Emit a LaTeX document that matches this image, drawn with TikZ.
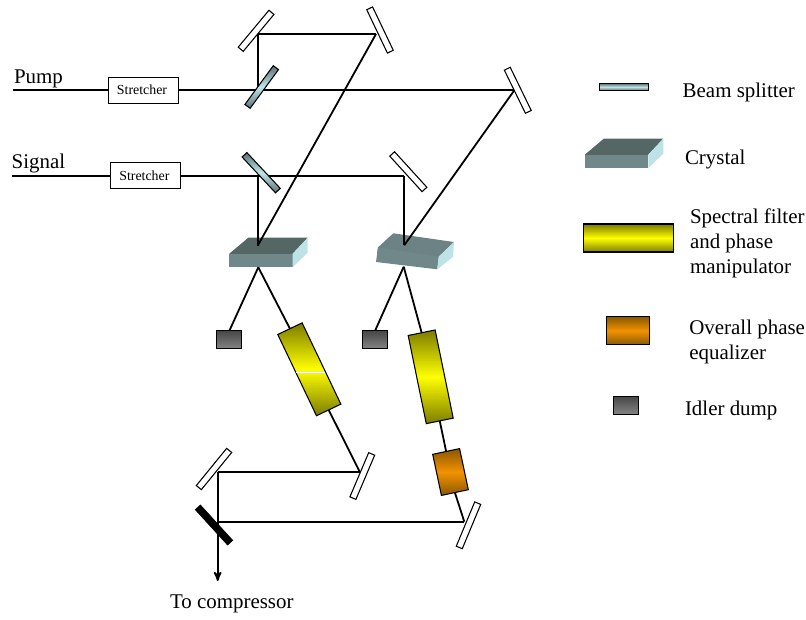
\documentclass[tikz,border=0pt]{standalone}
\usepackage{fontspec}
\setmainfont{Liberation Serif}
\usetikzlibrary{positioning, arrows, backgrounds}
\definecolor{filterdark}{HTML}{7C7C00}
\definecolor{filtermid}{HTML}{FFFF00}
\definecolor{phasedark}{HTML}{8A5800}
\definecolor{phasemid}{HTML}{F29200}
\definecolor{splitdark}{HTML}{5C7073}
\definecolor{splitmid}{HTML}{BFE6E9}
\definecolor{crystaltop}{HTML}{556765}
\definecolor{crystalmid}{HTML}{6C8284}
\definecolor{crystalfront}{HTML}{70888A}
\definecolor{crystalside}{HTML}{BDE3E6}
\newcommand{\px}{0.75pt}
\newcommand{\optic}[6]{
  \node[opticbody, rotate=#3, minimum width=#4*\px, minimum height=#5*\px] (#1) at (#2) {};
  \shadedraw[#6, opticline] (#1.north west) -- (#1.north east) -- (#1.south east) -- (#1.south west) -- cycle;
}
\tikzset{
  opticbody/.style={shape=rectangle, inner sep=0pt, outer sep=0pt},
  opticline/.style={draw=black, line width=.8pt},
  mirror/.style={opticbody, draw, fill=white, line width=.8pt, minimum width=48*\px, minimum height=6.5*\px},
  blocker/.style={opticbody, draw, fill=black, minimum width=48*\px, minimum height=7*\px},
  stretcher/.style={opticbody, draw, line width=.9pt, minimum width=70*\px, minimum height=26*\px, font=\fontsize{10.4}{12}\selectfont},
  dump/.style={opticbody, draw, line width=.8pt, top color=black!72, bottom color=black!48, minimum width=25*\px, minimum height=18*\px},
  splitband/.style={top color=splitdark, bottom color=splitdark, middle color=splitmid},
  filterband/.style={top color=filterdark, bottom color=filterdark, middle color=filtermid},
  phaseband/.style={top color=phasedark, bottom color=phasedark, middle color=phasemid},
  beam/.style={line width=1.35pt},
  tag/.style={inner sep=0pt, outer sep=0pt, anchor=base west, align=left, font=\fontsize{15.7}{18.75}\selectfont},
  crystalbody/.pic={
    \fill[crystaltop] (0,1) -- (0,0) -- (19,-16) -- (78.4,-16) -- (63.4,0) -- (63.4,1) -- cycle;
    \fill[crystalfront] (0,0) rectangle (63.4,13.5);
    \fill[crystalside] (63.4,0) -- (78.4,-16) -- (78.4,-1) -- (63.4,13.5) -- cycle;
  }
}
\begin{document}
\begin{tikzpicture}[x=\px,y=-\px,>=stealth']
  \useasboundingbox (0,0) rectangle (806,619);
  % beam end points
  \coordinate (inPump) at (13,90.3);
  \coordinate (inSignal) at (12,175.7);
  \coordinate (hitA) at (258.2,34);
  \coordinate (hitB) at (376,34);
  \coordinate (hitC) at (514.3,90.3);
  \coordinate (hitD) at (404.2,175.7);
  \coordinate (hitE) at (360,472.3);
  \coordinate (hitF) at (217.7,472.3);
  \coordinate (hitG) at (464.3,521.7);
  \coordinate (hitH) at (217.7,521.7);
  \coordinate (toComp) at (217.7,581);
  \coordinate (splitP) at (258.2,90.3);
  \coordinate (splitS) at (257.7,175.7);
  \coordinate (spotA) at (257.7,245.7);
  \coordinate (spotB) at (404.2,245.3);
  \coordinate (apexA) at (258.3,267.3);
  \coordinate (apexB) at (403.7,266.7);
  \coordinate (seamL) at (296,372.3);
  \coordinate (seamR) at (325,372.3);

  % optics
  \node[mirror, rotate=50.2] (mirrorA) at (256.1,30.8) {};
  \node[mirror, rotate=-64.5] (mirrorB) at (380,30) {};
  \node[mirror, rotate=-64] (mirrorC) at (517.8,90.3) {};
  \node[mirror, rotate=-47.7] (mirrorD) at (408.3,171.7) {};
  \node[mirror, rotate=67] (mirrorE) at (362.3,476) {};
  \node[mirror, rotate=50.8] (mirrorF) at (214,469) {};
  \node[mirror, rotate=67.4] (mirrorG) at (468.5,525.3) {};
  \node[blocker, rotate=-47.6] (blocker) at (214,525) {};
  \optic{splitP0}{261.7,87}{53.8}{48}{6.5}{splitband}
  \optic{splitS0}{261.2,172.7}{-47}{49}{6.5}{splitband}
  \optic{filterA}{309.3,369.3}{-64.5}{90}{27}{filterband}
  \optic{filterB}{430.7,376.8}{-78.4}{90}{27.5}{filterband}
  \optic{phaseEq}{450.5,472}{-78}{42}{27.5}{phaseband}
  \node[stretcher] (stretcherA) at (143.7,90.3) {};
  \node[stretcher] (stretcherB) at (145.5,175.7) {};
  \node[dump] (dumpA) at (229.3,339.9) {};
  \node[dump] (dumpB) at (375,339.9) {};
  \draw[white, line width=.5pt] (seamL) -- (seamR);

  % crystals go under the beams
  \begin{scope}[on background layer={beam}]
    \pic at (229.3,253.7) {crystalbody};
    \fill[crystalmid] (377.2,253) -- (378,247.3) -- (393.3,233.3) -- (454,242) -- (438.7,256.7) -- (437.8,262) -- cycle;
    \fill[crystalfront] (378,247.3) -- (438.7,256.7) -- (437.3,269.3) -- (376,262) -- cycle;
    \fill[crystalside] (438.7,256.7) -- (454,242) -- (453,257) -- (437.3,269.3) -- cycle;
    \pic at (585,154.5) {crystalbody};
    \path
      (inPump) edge (stretcherA)
      (stretcherA) edge (hitC)
      (inSignal) edge (stretcherB)
      (stretcherB) edge (hitD)
      (splitP) edge (hitA)
      (hitA) edge (hitB)
      (hitB) edge (spotA)
      (splitS) edge (spotA)
      (hitD) edge (spotB)
      (hitC) edge (spotB)
      (apexA) edge (dumpA.north)
      (apexA) edge (filterA.west)
      (filterA.east) edge (hitE)
      (apexB) edge (dumpB.north)
      (apexB) edge (filterB.west)
      (filterB.east) edge (phaseEq.west)
      (phaseEq.east) edge (hitG)
      (hitE) edge (hitF)
      (hitF) edge (hitH)
      (hitH) edge (hitG);
    \draw[->] (hitH) -- (toComp);
  \end{scope}

  % text
  \node[stretcher, draw=none, fill=none] (textA) at (142,90) {Stretcher};
  \node[stretcher, draw=none, fill=none] (textB) at (144.4,176) {Stretcher};
  \node[tag] (pumpTag) at (14,83.3) {Pump};
  \node[tag] (signalTag) at (11.7,168) {Signal};
  \node[tag] (compTag) at (170,608) {To compressor};

  % legend
  \optic{keySplit}{624.2,86.9}{0}{49}{7}{splitband}
  \optic{keyFilter}{628.2,238}{0}{90}{28}{filterband}
  \optic{keyPhase}{627.7,330.8}{0}{43}{28}{phaseband}
  \node[dump] (keyDump) at (625.7,405.5) {};
  \node[tag] (splitTag) at (682.7,97.3) {Beam splitter};
  \node[tag] (crystalTag) at (685,164) {Crystal};
  \node[tag] (filterTag) at (690,273.3) {Spectral filter\\and phase\\manipulator};
  \node[tag] (phaseTag) at (689.3,359) {Overall phase\\equalizer};
  \node[tag] (dumpTag) at (685,415.7) {Idler dump};
\end{tikzpicture}
\end{document}
